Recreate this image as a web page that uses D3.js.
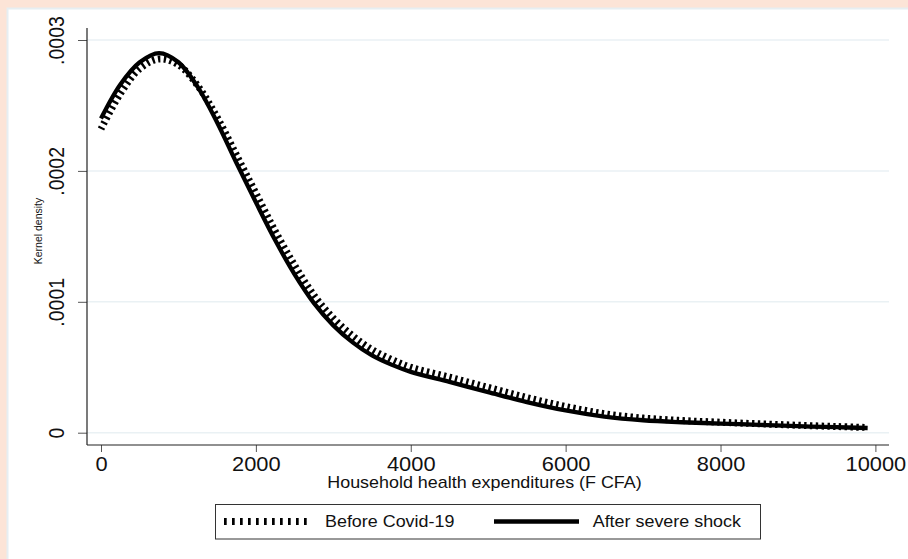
<!DOCTYPE html>
<html>
<head>
<meta charset="utf-8">
<script src="https://cdn.jsdelivr.net/npm/d3@7"></script>
<style>
  body { margin: 0; background: #fce4d7; }
  text { font-family: "Liberation Sans", Arial, sans-serif; fill: #111; }
</style>
</head>
<body>
<svg id="chart"></svg>
<script>
// kernel density estimates
const xValues = [0, 250, 500, 750, 1000, 1250, 1500, 1750, 2000, 2250, 2500, 2750, 3000, 3250, 3500, 3750, 4000,
                 4500, 5000, 5500, 6000, 6500, 7000, 7500, 8000, 8500, 9000, 9500, 9900];
const before = [0.000232, 0.000259, 0.000278, 0.0002855, 0.000281, 0.000265, 0.000241, 0.000212, 0.000183, 0.000154,
                0.000128, 0.000105, 0.0000875, 0.0000740, 0.0000635, 0.0000560, 0.0000500,
                0.0000424, 0.0000346, 0.0000268, 0.0000200, 0.0000145, 0.0000112, 0.0000093, 0.0000080,
                0.0000068, 0.0000057, 0.0000047, 0.0000040];
const after = [0.000240, 0.000266, 0.000283, 0.000290, 0.000283, 0.000264, 0.000237, 0.000206, 0.000176, 0.000147,
               0.000121, 0.0000990, 0.0000820, 0.0000690, 0.0000590, 0.0000520, 0.0000465,
               0.0000388, 0.0000310, 0.0000234, 0.0000170, 0.0000123, 0.0000095, 0.0000080, 0.0000070,
               0.0000060, 0.0000050, 0.0000042, 0.0000036];
const xTicks = [0, 2000, 4000, 6000, 8000, 10000];
const yTicks = [0, 0.0001, 0.0002, 0.0003];
const yTickLabels = ["0", ".0001", ".0002", ".0003"];
const seriesNames = ["Before Covid-19", "After severe shock"];

const width = 908, height = 559;
const stretch = 1.12; // text in the original is a bit wider than it is tall

const svg = d3.select("#chart")
    .attr("width", width)
    .attr("height", height)
    .style("display", "block");

// graph region
svg.append("rect")
    .attr("x", 7.5).attr("y", 8.5)
    .attr("width", width).attr("height", height)
    .attr("fill", "white")
    .attr("stroke", "#e6eef2").attr("stroke-width", 2);

const x = d3.scaleLinear().domain([0, 10000]).range([101, 875.4]);
const y = d3.scaleLinear().domain([0, 0.0003]).range([432.7, 40]);

const axisLeftX = 87, axisBottomY = 445;

// gridlines
svg.append("g")
    .selectAll("line")
    .data(yTicks)
    .join("line")
    .attr("x1", axisLeftX).attr("x2", 889)
    .attr("y1", d => y(d)).attr("y2", d => y(d))
    .attr("stroke", "#eaf1f4")
    .attr("stroke-width", 1.5);

// y axis
const yAxis = svg.append("g")
    .attr("transform", `translate(${axisLeftX},0)`)
    .call(d3.axisLeft(y).tickValues(yTicks).tickFormat((d, i) => yTickLabels[i]).tickSize(9).tickSizeOuter(0));
yAxis.select(".domain").remove();
yAxis.selectAll(".tick line").attr("stroke", "#555");
yAxis.selectAll(".tick text")
    .attr("x", null).attr("dy", null)
    .attr("text-anchor", "middle")
    .attr("transform", `translate(-23,0) scale(${stretch},1) rotate(-90)`)
    .style("font-size", "19.5px")
    .style("font-family", "'Liberation Sans', Arial, sans-serif")
    .attr("fill", "#111");

// x axis
const xAxis = svg.append("g")
    .attr("transform", `translate(0,${axisBottomY})`)
    .call(d3.axisBottom(x).tickValues(xTicks).tickFormat(d3.format("d")).tickSize(7).tickSizeOuter(0));
xAxis.select(".domain").remove();
xAxis.selectAll(".tick line").attr("stroke", "#555");
xAxis.selectAll(".tick text")
    .attr("y", 26.3).attr("dy", null)
    .attr("transform", `scale(${stretch},1)`)
    .style("font-size", "19.5px")
    .style("font-family", "'Liberation Sans', Arial, sans-serif")
    .attr("fill", "#111");

// axis lines
svg.append("line")
    .attr("x1", axisLeftX).attr("x2", axisLeftX)
    .attr("y1", 28).attr("y2", axisBottomY)
    .attr("stroke", "#222").attr("stroke-width", 1.2);
svg.append("line")
    .attr("x1", axisLeftX).attr("x2", 889)
    .attr("y1", axisBottomY).attr("y2", axisBottomY)
    .attr("stroke", "#222").attr("stroke-width", 1.2);

// axis titles
svg.append("text")
    .attr("transform", `translate(484.5,488) scale(${stretch},1)`)
    .attr("text-anchor", "middle")
    .style("font-size", "16px")
    .text("Household health expenditures (F CFA)");

svg.append("text")
    .attr("transform", `translate(42,231) scale(${stretch},1) rotate(-90)`)
    .attr("text-anchor", "middle")
    .style("font-size", "10.5px")
    .text("Kernel density");

// curves
const line = d3.line()
    .x(d => x(d[0]))
    .y(d => y(d[1]))
    .curve(d3.curveCatmullRom.alpha(0.5));

svg.append("path")
    .datum(xValues.map((v, i) => [v, before[i]]))
    .attr("d", line)
    .attr("fill", "none")
    .attr("stroke", "black")
    .attr("stroke-width", 7)
    .attr("stroke-dasharray", "2.4,3.4");

svg.append("path")
    .datum(xValues.map((v, i) => [v, after[i]]))
    .attr("d", line)
    .attr("fill", "none")
    .attr("stroke", "black")
    .attr("stroke-width", 4.3);

// legend
const legend = svg.append("g");
legend.append("rect")
    .attr("x", 215.5).attr("y", 504.5)
    .attr("width", 545).attr("height", 34.5)
    .attr("fill", "white")
    .attr("stroke", "#333").attr("stroke-width", 1);

const legendY = 521.5;
legend.append("line")
    .attr("x1", 224).attr("x2", 307)
    .attr("y1", legendY).attr("y2", legendY)
    .attr("stroke", "black").attr("stroke-width", 7)
    .attr("stroke-dasharray", "2.7,5.3");
legend.append("line")
    .attr("x1", 494).attr("x2", 579)
    .attr("y1", legendY).attr("y2", legendY)
    .attr("stroke", "black").attr("stroke-width", 4.3);

legend.selectAll("text")
    .data(seriesNames)
    .join("text")
    .attr("transform", (d, i) => `translate(${i === 0 ? 325 : 592.7},${legendY + 5.7}) scale(${stretch},1)`)
    .style("font-size", "16px")
    .text(d => d);
</script>
</body>
</html>
